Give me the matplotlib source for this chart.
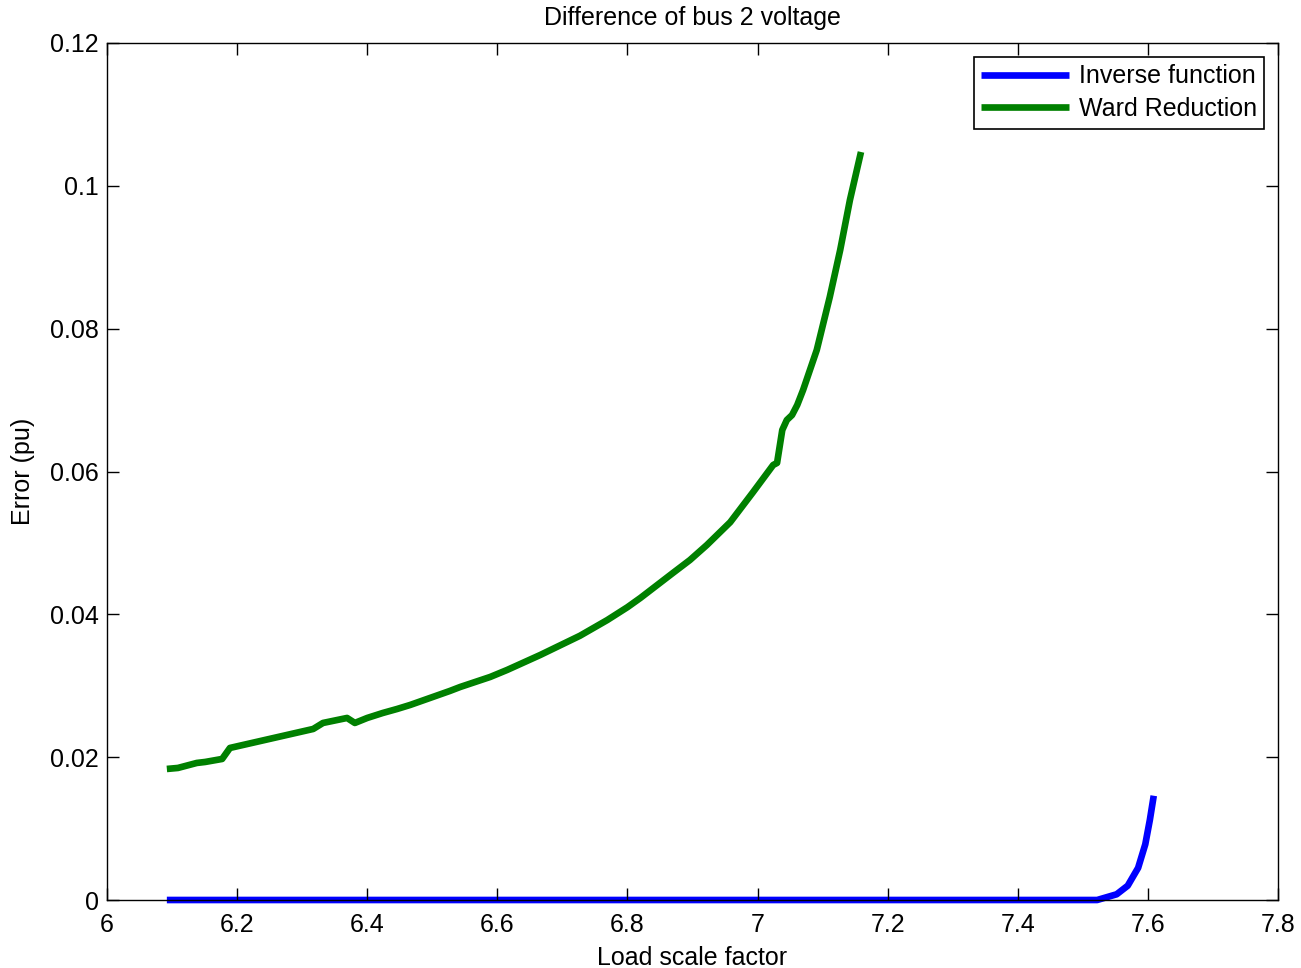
import matplotlib
matplotlib.use("Agg")
import matplotlib.pyplot as plt
from matplotlib.ticker import FuncFormatter

plt.rcParams['font.family'] = ['Liberation Sans', 'DejaVu Sans']

# Inverse function series
inv_x = [6.092, 7.30, 7.522, 7.552, 7.569, 7.585, 7.596, 7.603, 7.609]
inv_y = [0.0, 0.0, 0.0, 0.0008, 0.0020, 0.0045, 0.0078, 0.0112, 0.0146]

# Ward Reduction series
ward_x = [6.092, 6.109, 6.138, 6.151, 6.177, 6.189, 6.317, 6.332, 6.369, 6.381,
          6.400, 6.424, 6.446, 6.466, 6.527, 6.543, 6.589, 6.615, 6.666, 6.727,
          6.769, 6.800, 6.820, 6.840, 6.870, 6.896, 6.922, 6.958, 6.993, 7.024,
          7.030, 7.038, 7.045, 7.053, 7.061, 7.070, 7.091, 7.111, 7.127, 7.142,
          7.159]
ward_y = [0.01835, 0.01849, 0.01919, 0.01933, 0.01975, 0.02129, 0.02395, 0.02479, 0.02549, 0.02479,
          0.02549, 0.02619, 0.02675, 0.02731, 0.02927, 0.02983, 0.03123, 0.03221, 0.03431, 0.03700,
          0.03920, 0.04100, 0.04230, 0.04370, 0.04580, 0.04760, 0.04970, 0.05290, 0.05710, 0.06091,
          0.06120, 0.06581, 0.06721, 0.06790, 0.06931, 0.07141, 0.07701, 0.08443, 0.09101, 0.09802,
          0.10474]

x_ticks = [6, 6.2, 6.4, 6.6, 6.8, 7, 7.2, 7.4, 7.6, 7.8]
y_ticks = [0, 0.02, 0.04, 0.06, 0.08, 0.1, 0.12]

FS = 18

fig = plt.figure(figsize=(13.01, 9.68), dpi=100)
ax = fig.add_axes([107/1301, 1-900/968, (1278-107)/1301, (900-43)/968])

ax.plot(inv_x, inv_y, color=(0, 0, 1), lw=4.8, label='Inverse function',
        solid_capstyle='butt', solid_joinstyle='round', clip_on=False, zorder=1)
ax.plot(ward_x, ward_y, color=(0, 0.5, 0), lw=4.8, label='Ward Reduction',
        solid_capstyle='butt', solid_joinstyle='round', zorder=1)

ax.set_xlim(6, 7.8)
ax.set_ylim(0, 0.12)
ax.set_xticks(x_ticks)
ax.set_yticks(y_ticks)
fmt = FuncFormatter(lambda v, p: '%g' % round(v, 4))
ax.xaxis.set_major_formatter(fmt)
ax.yaxis.set_major_formatter(fmt)
ax.tick_params(direction='in', length=8.5, width=1, top=True, right=True,
               labelsize=FS, colors='black')
ax.tick_params(axis='x', pad=9)
ax.tick_params(axis='y', pad=6)
for s in ax.spines.values():
    s.set_linewidth(1)
    s.set_color('black')
    s.set_zorder(3)

ax.set_title('Difference of bus 2 voltage', fontsize=FS, pad=13)
ax.set_xlabel('Load scale factor', fontsize=FS, labelpad=7)
ax.set_ylabel('Error (pu)', fontsize=FS, labelpad=11)

leg = ax.legend(loc='upper right', fontsize=FS, handlelength=3.5, fancybox=False,
                framealpha=1, edgecolor='black', borderaxespad=0.55,
                handletextpad=0.4, labelspacing=0.35, borderpad=0.3)
leg.get_frame().set_linewidth(1.2)

fig.savefig('out.png', dpi=100, facecolor='white')
